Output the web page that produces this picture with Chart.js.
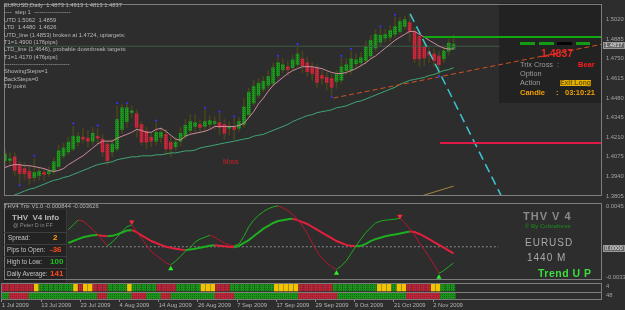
<!DOCTYPE html>
<html>
<head>
<meta charset="utf-8">
<title>EURUSD Daily</title>
<script src="https://cdn.jsdelivr.net/npm/chart.js@4.4.1/dist/chart.umd.min.js"></script>
<style>
  html, body { margin: 0; padding: 0; background: #2d2d2d; }
  #wrap { position: relative; width: 625px; height: 310px; overflow: hidden; background: #2d2d2d;
          font-family: "Liberation Sans", Arial, sans-serif; }
  #wrap canvas { position: absolute; left: 0; z-index: 1; }
  .box { position: absolute; z-index: 0; }
  .t { position: absolute; z-index: 2; white-space: pre; }
</style>
</head>
<body>
<div id="wrap">
  <div class="box" style="left:499px;top:3px;width:102px;height:100px;background:#222;"></div>
  <div class="box" style="left:3px;top:210px;width:63px;height:72px;background:#232323;border-right:1px solid #3a3a3a;"></div>
  <canvas id="price" width="625" height="200" style="top:0"></canvas>
  <canvas id="osc" width="625" height="85" style="top:199px"></canvas>
  <canvas id="rows" width="625" height="28" style="top:282px"></canvas>
</div>
<script>
// ---- daily EURUSD bars, 1 Jul 2009 .. 6 Nov 2009 ----
const open = [1.4048,1.4048,1.4075,1.4021,1.3994,1.3974,1.3933,1.3947,1.3967,1.3960,
  1.3974,1.4008,1.4082,1.4109,1.4129,1.4176,1.4210,1.4203,1.4183,1.4217,
  1.4197,1.4163,1.4109,1.4129,1.4264,1.4318,1.4379,1.4372,1.4298,1.4251,
  1.4210,1.4183,1.4210,1.4230,1.4176,1.4143,1.4183,1.4217,1.4257,1.4284,
  1.4298,1.4284,1.4298,1.4305,1.4311,1.4298,1.4271,1.4278,1.4271,1.4298,
  1.4365,1.4446,1.4500,1.4541,1.4568,1.4581,1.4635,1.4676,1.4696,1.4689,
  1.4710,1.4750,1.4723,1.4689,1.4683,1.4635,1.4622,1.4615,1.4595,1.4602,
  1.4669,1.4669,1.4716,1.4723,1.4737,1.4770,1.4824,1.4865,1.4892,1.4899,
  1.4919,1.4939,1.4973,1.5000,1.4939,1.4905,1.4831,1.4797,1.4784,1.4770,
  1.4750,1.4804,1.4818];
const high = [1.4129,1.4102,1.4102,1.4048,1.4035,1.4008,1.4062,1.4001,1.3987,1.4008,
  1.4068,1.4156,1.4170,1.4210,1.4284,1.4244,1.4271,1.4257,1.4278,1.4271,
  1.4230,1.4190,1.4197,1.4426,1.4433,1.4440,1.4426,1.4399,1.4318,1.4278,
  1.4237,1.4311,1.4278,1.4264,1.4210,1.4210,1.4278,1.4332,1.4365,1.4365,
  1.4332,1.4399,1.4359,1.4352,1.4372,1.4332,1.4318,1.4338,1.4345,1.4480,
  1.4548,1.4602,1.4615,1.4629,1.4669,1.4723,1.4757,1.4750,1.4737,1.4777,
  1.4838,1.4804,1.4764,1.4723,1.4710,1.4669,1.4656,1.4642,1.4669,1.4757,
  1.4750,1.4804,1.4784,1.4791,1.4872,1.4912,1.4953,1.4959,1.4953,1.4980,
  1.5040,1.5034,1.5047,1.5060,1.4966,1.4939,1.4872,1.4838,1.4818,1.4804,
  1.4831,1.4885,1.4913];
const low = [1.4008,1.4021,1.3947,1.3893,1.3920,1.3886,1.3906,1.3913,1.3913,1.3940,
  1.3954,1.3994,1.4062,1.4089,1.4116,1.4149,1.4170,1.4143,1.4156,1.4163,
  1.4075,1.4021,1.4075,1.4116,1.4237,1.4278,1.4345,1.4210,1.4156,1.4129,
  1.4143,1.4156,1.4170,1.4095,1.4075,1.4116,1.4149,1.4197,1.4237,1.4244,
  1.4244,1.4251,1.4264,1.4264,1.4224,1.4197,1.4224,1.4197,1.4251,1.4278,
  1.4345,1.4426,1.4480,1.4521,1.4548,1.4561,1.4615,1.4656,1.4635,1.4669,
  1.4696,1.4656,1.4629,1.4602,1.4548,1.4575,1.4534,1.4500,1.4548,1.4581,
  1.4642,1.4642,1.4689,1.4703,1.4716,1.4750,1.4804,1.4845,1.4865,1.4872,
  1.4899,1.4919,1.4953,1.4872,1.4723,1.4696,1.4703,1.4723,1.4696,1.4635,
  1.4723,1.4777,1.4813];
const close = [1.4095,1.4062,1.3981,1.3960,1.3960,1.3927,1.3967,1.3974,1.3954,1.3974,
  1.4041,1.4116,1.4136,1.4176,1.4217,1.4217,1.4197,1.4183,1.4237,1.4203,
  1.4109,1.4048,1.4163,1.4332,1.4413,1.4413,1.4392,1.4278,1.4176,1.4176,
  1.4183,1.4244,1.4244,1.4129,1.4129,1.4176,1.4237,1.4291,1.4318,1.4311,
  1.4278,1.4318,1.4325,1.4318,1.4278,1.4237,1.4284,1.4264,1.4318,1.4419,
  1.4521,1.4561,1.4581,1.4595,1.4629,1.4689,1.4723,1.4710,1.4676,1.4743,
  1.4784,1.4703,1.4662,1.4649,1.4588,1.4615,1.4588,1.4554,1.4642,1.4696,
  1.4710,1.4750,1.4743,1.4757,1.4831,1.4878,1.4919,1.4912,1.4919,1.4946,
  1.4973,1.5007,1.5020,1.4939,1.4750,1.4750,1.4757,1.4777,1.4737,1.4710,
  1.4804,1.4858,1.4851];
const maFast = [1.4001,1.4014,1.4021,1.4021,1.4014,1.4014,1.4008,1.4001,1.3994,1.3981,
  1.3974,1.3981,1.3994,1.4021,1.4041,1.4062,1.4082,1.4109,1.4136,1.4163,
  1.4183,1.4183,1.4183,1.4203,1.4217,1.4230,1.4244,1.4264,1.4257,1.4244,
  1.4244,1.4264,1.4271,1.4251,1.4224,1.4197,1.4190,1.4217,1.4230,1.4237,
  1.4244,1.4251,1.4264,1.4284,1.4284,1.4284,1.4284,1.4284,1.4291,1.4305,
  1.4345,1.4386,1.4440,1.4480,1.4527,1.4568,1.4595,1.4622,1.4649,1.4669,
  1.4683,1.4696,1.4696,1.4696,1.4689,1.4683,1.4669,1.4656,1.4649,1.4649,
  1.4656,1.4669,1.4683,1.4703,1.4723,1.4750,1.4770,1.4797,1.4824,1.4851,
  1.4878,1.4899,1.4919,1.4939,1.4939,1.4919,1.4899,1.4878,1.4858,1.4838,
  1.4824,1.4818,1.4818];
const maSlow = [1.3785,1.3798,1.3812,1.3825,1.3839,1.3852,1.3859,1.3873,1.3886,1.3900,
  1.3913,1.3920,1.3933,1.3940,1.3954,1.3967,1.3981,1.3994,1.4008,1.4021,
  1.4028,1.4035,1.4041,1.4055,1.4062,1.4068,1.4075,1.4075,1.4082,1.4082,
  1.4082,1.4089,1.4089,1.4095,1.4102,1.4102,1.4109,1.4116,1.4116,1.4122,
  1.4136,1.4143,1.4149,1.4156,1.4163,1.4170,1.4176,1.4183,1.4190,1.4197,
  1.4203,1.4217,1.4224,1.4230,1.4244,1.4257,1.4271,1.4284,1.4298,1.4318,
  1.4332,1.4345,1.4359,1.4365,1.4379,1.4386,1.4392,1.4399,1.4413,1.4419,
  1.4426,1.4440,1.4453,1.4460,1.4473,1.4487,1.4500,1.4514,1.4527,1.4541,
  1.4554,1.4575,1.4588,1.4602,1.4608,1.4615,1.4622,1.4635,1.4642,1.4656,
  1.4669,1.4676,1.4689];
// TD points [bar, price]
const tdPoints = [[3,1.3879],[6,1.4082],[14,1.4305],[19,1.4291],[23,1.4446],[25,1.4446],
  [31,1.4325],[41,1.4413],[44,1.4386],[47,1.4352],[56,1.4770],[60,1.4851],[67,1.4487],
  [69,1.4770],[71,1.4818],[77,1.4973],[80,1.5054],[89,1.4629]];
// drawn objects [bar, price]
const ltdLine = [[67.35,1.4480],[122.45,1.4851]];
const cyanLine = [[83.1,1.5060],[102.1,1.3785]];
const tanLine = [[83.9,1.3790],[92.0,1.3873]];
const target1Up = 1.4900, target1UpFrom = 85.9;
const target1Down = 1.4170, target1DownFrom = 89.2;
const lastPrice = 1.4837;
const priceTicks = [1.5020,1.4885,1.4750,1.4615,1.4480,1.4345,1.4210,1.4075,1.3940,1.3805];

// ---- THV4 Trix (from bar 13) ----
const trixStart = 13;
const trixFast = [0.00188,0.00241,0.00293,0.00283,0.00241,0.00188,0.00136,0.00073,0.00010,0.00052,
  0.00105,0.00168,0.00220,0.00241,0.00168,0.00094,0.00021,-0.00052,-0.00094,-0.00136,
  -0.00178,-0.00199,-0.00157,-0.00105,-0.00052,-0.00010,0.00052,0.00084,0.00105,0.00126,
  0.00105,0.00073,0.00042,0.00021,0.00010,0.00031,0.00115,0.00220,0.00293,0.00346,
  0.00387,0.00419,0.00440,0.00450,0.00429,0.00398,0.00356,0.00304,0.00230,0.00147,
  0.00042,-0.00052,-0.00126,-0.00178,-0.00220,-0.00251,-0.00209,-0.00157,-0.00073,0.00010,
  0.00084,0.00157,0.00209,0.00262,0.00283,0.00293,0.00298,0.00304,0.00314,0.00262,
  0.00199,0.00136,0.00042,-0.00031,-0.00115,-0.00199,-0.00293,-0.00262,-0.00220,-0.00178];
const trixSlow = [0.00042,0.00063,0.00084,0.00105,0.00115,0.00126,0.00130,0.00120,0.00115,0.00120,
  0.00136,0.00157,0.00178,0.00183,0.00162,0.00126,0.00094,0.00063,0.00042,0.00021,
  0.00000,-0.00010,-0.00021,-0.00031,-0.00037,-0.00031,-0.00021,-0.00010,0.00000,0.00010,
  0.00016,0.00010,0.00005,0.00000,-0.00005,0.00010,0.00042,0.00073,0.00115,0.00157,
  0.00199,0.00230,0.00262,0.00283,0.00293,0.00304,0.00309,0.00293,0.00272,0.00251,
  0.00220,0.00188,0.00157,0.00126,0.00094,0.00063,0.00042,0.00021,0.00010,0.00005,
  0.00010,0.00031,0.00063,0.00084,0.00099,0.00115,0.00126,0.00136,0.00147,0.00157,
  0.00168,0.00162,0.00141,0.00115,0.00084,0.00052,0.00021,-0.00010,-0.00042,-0.00073];
const arrowsUp = [[34,-0.00241],[68,-0.00293],[89,-0.00335]];
const arrowsDown = [[26,0.00272],[81,0.00335]];
const zeroLineSpan = [13.3, 101.2];
const oscTicks = [0.0045, -0.00334];
const oscTickLabels = ['0.0045', '-0.00334'];

// ---- signal rows: r = down, g = up, y = neutral ----
const row1States = 'rrrrrrr y ggggggg y r yy rrr gggg y ggggg rrrr ggggg yyy rrr ggggggggg yyyyy rrrrrrr ggggggggg yyy g yy rrrrr yy ggg'.replace(/ /g, '').split('');
const row2States = 'gg rrrr gggggggggggggg rr ggggg rrr ggg rr ggggggggg rrrr ggggggggggggg rrrrrrrr gggggggggggggg rrrrrrr ggg'.replace(/ /g, '').split('');

const dateTicks = [0, 8, 16, 24, 32, 40, 48, 56, 64, 72, 80, 88];
const dateLabels = ['1 Jul 2009','13 Jul 2009','23 Jul 2009','4 Aug 2009','14 Aug 2009','26 Aug 2009',
  '7 Sep 2009','17 Sep 2009','29 Sep 2009','9 Oct 2009','21 Oct 2009','2 Nov 2009'];

const infoLines = [
  'EURUSD,Daily  1.4873 1.4913 1.4813 1.4837',
  '----  step 1  -------------------',
  'UTD 1.5062  1.4859',
  'LTD  1.4480  1.4626',
  'UTD_line (1.4853) broken at 1.4724, uptargets:',
  'T1=1.4900 (176pips)',
  'LTD_line (1.4646), probable downbreak targets:',
  'T1=1.4170 (476pips)',
  '----------------------------------',
  'ShowingSteps=1',
  'BackSteps=0',
  'TD point'
];

// ---------------------------------------------------------------
const X_MIN = -0.204, X_MAX = 122.45;
const FONT = '"Liberation Sans", Arial, sans-serif';
const idx = open.map((_, i) => i);
const pt = (a) => ({ x: a[0], y: a[1] });

function dotted(ctx, base, dot) {
  const c = document.createElement('canvas');
  c.width = 2; c.height = 2;
  const g = c.getContext('2d');
  g.fillStyle = base; g.fillRect(0, 0, 2, 2);
  g.fillStyle = dot; g.fillRect(0, 0, 1, 1);
  return ctx.createPattern(c, 'repeat');
}

const framePlugin = {
  id: 'frame',
  afterDatasetsDraw(chart, args, opts) {
    const { ctx, chartArea: a } = chart;
    ctx.save();
    ctx.strokeStyle = '#7c7c7c';
    ctx.lineWidth = 1;
    ctx.strokeRect(Math.round(a.left) + 0.5, Math.round(a.top) + 0.5, Math.round(a.width) - 1, Math.round(a.height) - 1);
    (opts.splits || []).forEach(v => {
      const y = Math.round(chart.scales.y.getPixelForValue(v)) + 0.5;
      ctx.beginPath(); ctx.moveTo(a.left, y); ctx.lineTo(a.right, y); ctx.stroke();
    });
    ctx.restore();
  }
};

const lineDs = (data, color, extra) => Object.assign({
  type: 'line', data, borderColor: color, borderWidth: 1, pointRadius: 0, tension: 0, fill: false
}, extra || {});

const fixedRightAxis = (axis) => { axis.width = 23; axis.paddingTop = 0; axis.paddingBottom = 0; };
const hiddenX = { type: 'linear', min: X_MIN, max: X_MAX, display: false, offset: false };
const baseOpts = { responsive: false, animation: false, devicePixelRatio: 1, events: [],
  plugins: { legend: { display: false }, tooltip: { enabled: false } } };

// ---- price chart ----
const ctxP = document.getElementById('price').getContext('2d');
const upFill = dotted(ctxP, '#1f9a1f', '#137013');
const downFill = dotted(ctxP, '#c8293d', '#a81e30');

new Chart(ctxP, {
  type: 'bar',
  data: {
    datasets: [
      { type: 'bar', data: idx.map(i => ({ x: i, y: [low[i], high[i]] })), backgroundColor: '#48431c',
        barThickness: 1, grouped: false, order: 20 },
      { type: 'bar', data: idx.map(i => ({ x: i, y: [open[i], close[i]] })),
        backgroundColor: c => close[c.dataIndex] >= open[c.dataIndex] ? upFill : downFill,
        barThickness: 3, minBarLength: 1, grouped: false, order: 19 },
      lineDs([{ x: X_MIN, y: lastPrice }, { x: 101.4, y: lastPrice }], '#3e5a46', { order: 15 }),
      lineDs(idx.map(i => ({ x: i, y: maSlow[i] })), '#41a576', { order: 10 }),
      lineDs(idx.map(i => ({ x: i, y: maFast[i] })), '#cf8aa0', { order: 9 }),
      lineDs(ltdLine.map(pt), '#d2521e', { borderDash: [5, 3], order: 6 }),
      lineDs(cyanLine.map(pt), '#3cc6d6', { borderDash: [9, 5], borderWidth: 1.5, order: 5 }),
      lineDs(tanLine.map(pt), '#a8843c', { order: 5 }),
      lineDs([{ x: target1UpFrom, y: target1Up }, { x: X_MAX, y: target1Up }], '#12a812', { borderWidth: 2, order: 4 }),
      lineDs([{ x: target1DownFrom, y: target1Down }, { x: X_MAX, y: target1Down }], '#e01a46', { borderWidth: 2, order: 4 }),
      lineDs(tdPoints.map(pt), '#3434ff', { showLine: false, pointRadius: 1.1, pointBackgroundColor: '#3434ff', pointBorderWidth: 0, order: 1 })
    ]
  },
  options: Object.assign({}, baseOpts, {
    layout: { padding: { left: 1, top: 2, bottom: 2, right: 0 } },
    scales: {
      x: hiddenX,
      y: {
        position: 'right', min: 1.3805, max: 1.5128,
        grid: { display: false, drawTicks: false }, border: { display: false },
        afterBuildTicks: axis => { axis.ticks = priceTicks.map(v => ({ value: v })); },
        afterFit: fixedRightAxis,
        ticks: { autoSkip: false, padding: 4, color: '#a2a2a2', font: { family: FONT, size: 5.8 },
                 callback: v => v.toFixed(4) }
      }
    }
  }),
  plugins: [framePlugin]
});

// ---- oscillator ----
const upColor = '#1fae1f', downThick = '#e0203c', downThin = '#b8162e';
const trixSeg = (arr) => arr.map((v, k) => ({ x: trixStart + k, y: v }));
const ctxO = document.getElementById('osc').getContext('2d');
new Chart(ctxO, {
  type: 'line',
  data: {
    datasets: [
      lineDs(zeroLineSpan.map(x => ({ x, y: 0 })), '#8a8a8a', { borderDash: [2, 2], order: 10 }),
      lineDs(trixSeg(trixSlow), upColor, { borderWidth: 2, order: 5,
        segment: { borderColor: s => s.p1.parsed.y >= s.p0.parsed.y ? upColor : downThick } }),
      lineDs(trixSeg(trixFast), upColor, { borderWidth: 1, order: 4,
        segment: { borderColor: s => s.p1.parsed.y >= s.p0.parsed.y ? upColor : downThin } }),
      lineDs(arrowsUp.map(pt), '#2cf02c', { showLine: false, pointStyle: 'triangle', pointRadius: 3,
        pointBackgroundColor: '#2cf02c', pointBorderWidth: 0, order: 1 }),
      lineDs(arrowsDown.map(pt), '#ff2a3a', { showLine: false, pointStyle: 'triangle', pointRotation: 180,
        pointRadius: 3, pointBackgroundColor: '#ff2a3a', pointBorderWidth: 0, order: 1 })
    ]
  },
  options: Object.assign({}, baseOpts, {
    layout: { padding: { left: 1, top: 2, bottom: 3, right: 0 } },
    scales: {
      x: hiddenX,
      y: {
        position: 'right', min: -0.00366, max: 0.00482,
        grid: { display: false, drawTicks: false }, border: { display: false },
        afterBuildTicks: axis => { axis.ticks = oscTicks.map(v => ({ value: v })); },
        afterFit: fixedRightAxis,
        ticks: { autoSkip: false, padding: 4, color: '#a2a2a2', font: { family: FONT, size: 5.8 },
                 callback: v => oscTickLabels[oscTicks.indexOf(v)] }
      }
    }
  }),
  plugins: [framePlugin]
});

// ---- signal rows + date axis ----
const ctxR = document.getElementById('rows').getContext('2d');
const cellFill = {
  g: dotted(ctxR, '#1c941c', '#126c12'),
  r: dotted(ctxR, '#b82639', '#9a1c2c'),
  y: '#f0c400'
};
new Chart(ctxR, {
  type: 'bar',
  data: {
    datasets: [
      { data: idx.map(i => ({ x: i, y: [1.06, 1.9] })), backgroundColor: c => cellFill[row1States[c.dataIndex]],
        barThickness: 4, grouped: false },
      { data: idx.map(i => ({ x: i, y: [0.06, 0.84] })), backgroundColor: c => cellFill[row2States[c.dataIndex]],
        barThickness: 5, grouped: false }
    ]
  },
  options: Object.assign({}, baseOpts, {
    layout: { padding: { left: 1, top: 1, bottom: 0, right: 23 } },
    plugins: Object.assign({}, baseOpts.plugins, { frame: { splits: [1] } }),
    scales: {
      x: {
        type: 'linear', min: X_MIN, max: X_MAX, offset: false,
        grid: { display: true, drawOnChartArea: false, drawTicks: true, tickLength: 2, color: '#8c8c8c', offset: false },
        border: { display: false },
        afterBuildTicks: axis => { axis.ticks = dateTicks.map(v => ({ value: v })); },
        afterFit: axis => { axis.height = 10; axis.paddingLeft = 0; axis.paddingRight = 0; },
        ticks: { autoSkip: false, maxRotation: 0, align: 'start', padding: 0, color: '#b4b4b4',
                 font: { family: FONT, size: 5.8 },
                 callback: v => { const k = dateTicks.indexOf(v); return k >= 0 ? dateLabels[k] : ''; } }
      },
      y: { min: 0, max: 2, display: false }
    }
  }),
  plugins: [framePlugin]
});

// ---- text overlays ----
const wrap = document.getElementById('wrap');
function put(text, x, cy, size, color, o) {
  o = o || {};
  const d = document.createElement('div');
  d.className = 't';
  d.textContent = text;
  d.style.left = x + 'px';
  d.style.top = (cy - size * 0.5) + 'px';
  d.style.fontSize = size + 'px';
  d.style.lineHeight = size + 'px';
  d.style.color = color;
  if (o.bold) d.style.fontWeight = 'bold';
  if (o.ls) d.style.letterSpacing = o.ls + 'px';
  if (o.bg) d.style.background = o.bg;
  if (o.border) d.style.border = o.border;
  if (o.pad) d.style.padding = o.pad;
  wrap.appendChild(d);
  return d;
}
function rect(x, y, w, h, color) {
  const d = document.createElement('div');
  d.className = 't';
  Object.assign(d.style, { left: x + 'px', top: y + 'px', width: w + 'px', height: h + 'px', background: color });
  wrap.appendChild(d);
}

infoLines.forEach((s, k) => put(s, 4, 6 + k * 7.35, 5.8, '#b8b8b8'));
put('Movs', 223, 162, 6.5, '#d02222');

// right info panel
rect(520, 42, 15, 3, '#139c13');
rect(539, 42, 15, 3, '#139c13');
rect(557, 42, 15, 3, '#050505');
rect(576, 42, 14, 3, '#139c13');
put('1.4837', 541, 53, 10.5, '#ee2424', { bold: true });
put('Trix Cross  :', 520, 65, 7.3, '#9c9c9c');
put('Bear', 578, 65, 7.5, '#ff1c1c', { bold: true });
put('Option', 520, 74, 7.3, '#9c9c9c');
put('Action', 520, 83, 7.3, '#9c9c9c');
put('Exit Long', 560, 83, 6.8, '#7a5600', { bold: true, bg: '#e2b400' });
put('Candle', 520, 93, 7.5, '#f0a000', { bold: true });
put(':', 556, 93, 7.5, '#f0a000', { bold: true });
put('03:10:21', 565, 93, 7.5, '#f0a000', { bold: true });
put('1.4837', 603, 44.5, 5.8, '#e8e8e8', { bg: '#666', border: '1px solid #9a9a9a', pad: '0 1px' });

// oscillator texts
put('THV4 Trix V1.0 -0.000844 -0.003626', 4, 207, 5.8, '#b5b5b5');
put('THV  V4 Info', 12, 218, 8, '#b8b8b8', { bold: true });
put('@ Peter D in FF', 13, 225.5, 5.5, '#8e8e8e');
[231.5, 244, 256, 268].forEach(y => rect(4, y, 62, 1, '#3e3e3e'));
put('Spread:', 8, 238, 6.3, '#c4c4c4');
put('2', 53, 238, 8, '#ffa31a', { bold: true });
put('Pips to Open:', 7, 250, 6.3, '#c4c4c4');
put('-36', 50, 250, 8, '#ff4a1a', { bold: true });
put('High to Low:', 7, 262, 6.3, '#c4c4c4');
put('100', 50, 262, 8, '#22c022', { bold: true });
put('Daily Average:', 7, 274, 6.3, '#c4c4c4');
put('141', 50, 274, 8, '#ff4a1a', { bold: true });

put('THV V 4', 523, 216, 11, '#8a8a8a', { bold: true, ls: 1 });
put('\u00A9 By Cobraforex', 525, 226.5, 5.8, '#1f7a1f', { bold: true });
put('EURUSD', 525, 243, 10, '#a8a8a8', { ls: 1 });
put('1440 M', 527, 258, 10, '#a8a8a8', { ls: 1 });
put('Trend U P', 538, 273, 10.5, '#3edc3e', { bold: true, ls: 0.5 });
put('0.0000', 603, 247.5, 5.8, '#e8e8e8', { bg: '#666', border: '1px solid #9a9a9a', pad: '0 1px' });
put('4', 606, 287, 5.8, '#a0a0a0');
put('48', 606, 296, 5.8, '#a0a0a0');
</script>
</body>
</html>
